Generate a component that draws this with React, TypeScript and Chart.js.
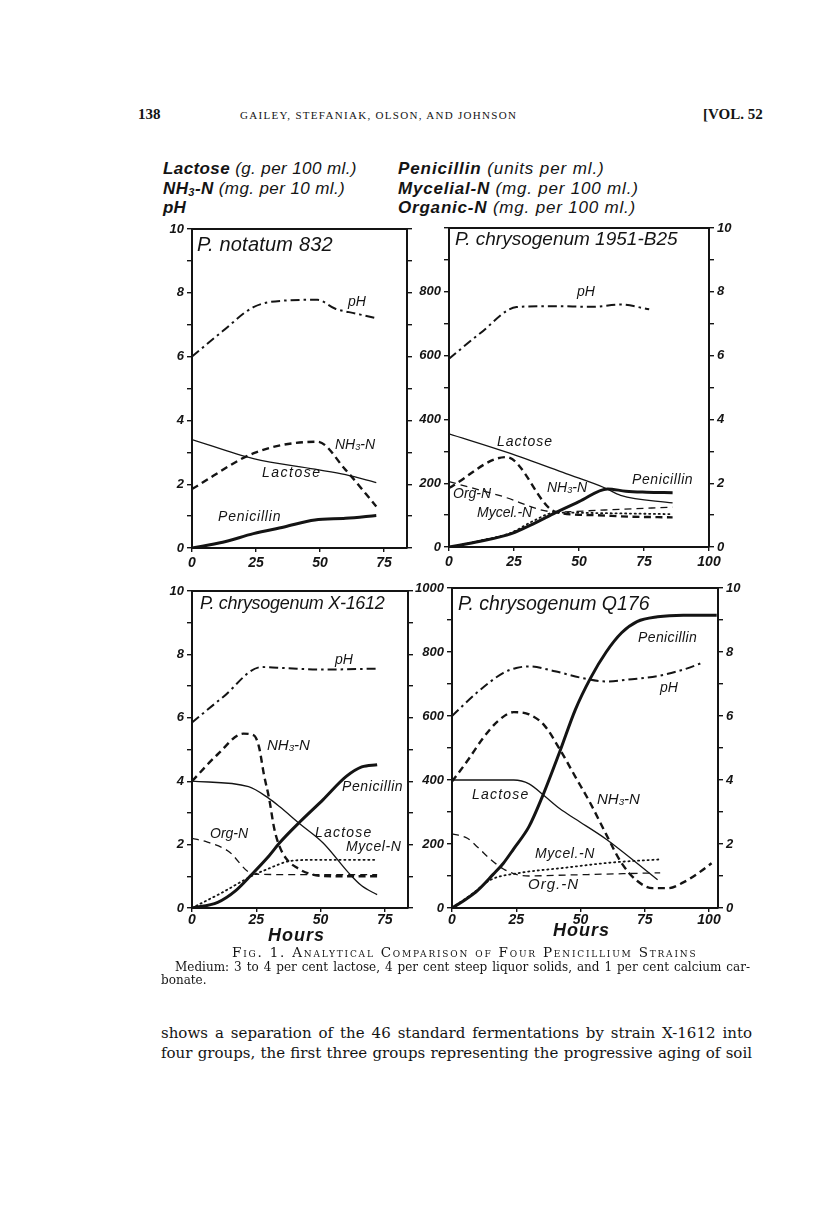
import React, { useEffect, useRef } from "react";
import { Chart, registerables } from "chart.js";
Chart.register(...registerables);

// ---------------- data (hours / values) ----------------
// Panel 1: P. notatum 832
const P1_PH_H = [0, 12, 24, 35, 49, 56, 64, 72];
const P1_PH = [6.0, 6.8, 7.55, 7.75, 7.78, 7.5, 7.35, 7.2];
const P1_LAC_H = [0, 24, 48, 60, 72];
const P1_LAC = [3.4, 2.8, 2.47, 2.3, 2.05];
const P1_NH3_H = [0, 25, 49, 60, 72];
const P1_NH3 = [1.85, 3.0, 3.33, 2.45, 1.3];
const P1_PEN_H = [0, 12, 24, 36, 48, 60, 72];
const P1_PEN = [0, 18, 45, 66, 88, 93, 102];

// Panel 2: P. chrysogenum 1951-B25
const P2_PH_H = [0, 12, 26, 40, 55, 66, 77];
const P2_PH = [5.9, 6.7, 7.52, 7.55, 7.53, 7.6, 7.45];
const P2_LAC_H = [0, 23, 45, 60, 66, 86];
const P2_LAC = [3.55, 2.95, 2.3, 1.85, 1.62, 1.38];
const P2_NH3_H = [0, 22, 41, 55, 70, 86];
const P2_NH3 = [1.85, 2.82, 1.1, 1.0, 0.95, 0.93];
const P2_ORG_H = [0, 20, 41, 60, 86];
const P2_ORG = [205, 160, 110, 116, 125];
const P2_MYC_H = [0, 12, 24, 32, 41, 60, 86];
const P2_MYC = [0, 20, 45, 80, 108, 106, 103];
const P2_PEN_H = [0, 12, 24, 33, 41, 50, 61, 68, 76, 86];
const P2_PEN = [0, 18, 42, 75, 108, 142, 182, 175, 172, 170];

// Panel 3: P. chrysogenum X-1612
const P3_PH_H = [0, 12, 27, 36, 50, 72];
const P3_PH = [5.85, 6.65, 7.6, 7.57, 7.52, 7.55];
const P3_NH3_H = [0, 10, 20, 24, 26, 28, 30, 32, 34, 37, 41, 46, 55, 72];
const P3_NH3 = [4.0, 4.85, 5.5, 5.45, 5.1, 4.2, 3.45, 2.5, 1.95, 1.52, 1.26, 1.07, 1.0, 1.0];
const P3_LAC_H = [0, 22, 30, 34, 42, 51, 61, 66, 72];
const P3_LAC = [4.0, 3.83, 3.45, 3.2, 2.65, 2.05, 1.1, 0.7, 0.42];
const P3_PEN_H = [0, 10, 17, 23, 30, 34, 42, 51, 60, 66, 72];
const P3_PEN = [0, 18, 55, 104, 165, 205, 272, 342, 415, 445, 452];
const P3_ORG_H = [0, 6, 14, 24, 48, 72];
const P3_ORG = [220, 208, 180, 107, 105, 105];
const P3_MYC_H = [0, 12, 23, 30, 38, 48, 72];
const P3_MYC = [0, 50, 100, 125, 148, 152, 152];

// Panel 4: P. chrysogenum Q176
const P4_PH_H = [0, 10, 20, 25, 30, 40, 50, 60, 70, 80, 90, 98];
const P4_PH = [6.0, 6.75, 7.35, 7.5, 7.55, 7.4, 7.2, 7.08, 7.15, 7.25, 7.45, 7.68];
const P4_PEN_H = [0, 5, 10, 16, 20, 24, 30, 35, 42, 48, 54, 60, 66, 72, 80, 90, 103];
const P4_PEN = [0, 25, 55, 105, 140, 185, 255, 345, 490, 620, 720, 800, 860, 895, 910, 915, 915];
const P4_NH3_H = [0, 6, 12, 18, 24, 30, 36, 42, 48, 54, 60, 66, 72, 78, 84, 90, 96, 101];
const P4_NH3 = [3.95, 4.6, 5.3, 5.85, 6.12, 6.05, 5.7, 4.95, 4.1, 3.25, 2.3, 1.4, 0.85, 0.62, 0.62, 0.8, 1.1, 1.4];
const P4_LAC_H = [0, 24, 30, 36, 42, 48, 60, 72, 80];
const P4_LAC = [4.0, 4.0, 3.88, 3.5, 3.1, 2.78, 2.15, 1.4, 0.88];
const P4_ORG_H = [0, 6, 10, 15, 20, 25, 30, 40, 60, 81];
const P4_ORG = [232, 218, 190, 152, 122, 105, 100, 102, 106, 110];
const P4_MYC_H = [0, 8, 15, 25, 43, 62, 81];
const P4_MYC = [0, 45, 88, 108, 125, 142, 152];

// tick values
const HOUR_STEP = 25;
const LEFT_MAX = 10;
const PEN_MAX = 1000;

// ---------------- styling ----------------
const INK = "#141414";
const PAD_L = 46;
const PAD_R = 36;
const PAD_T = 20;
const PAD_B = 30;
const TICK_FONT = { family: "'Liberation Sans', Arial, sans-serif", size: 13, style: "italic" as const, weight: "bold" as const };
const HAND = "'Liberation Sans', Arial, sans-serif";
const SERIF = "'DejaVu Serif', 'Liberation Serif', serif";
const SERIF2 = "'Liberation Serif', serif";

const STYLE: Record<string, any> = {
  ph: { borderWidth: 2, borderDash: [9, 4, 2.5, 4] },
  nh3: { borderWidth: 2.4, borderDash: [7, 4.5] },
  lac: { borderWidth: 1.3, borderDash: [] },
  pen: { borderWidth: 3, borderDash: [] },
  org: { borderWidth: 1.3, borderDash: [7, 5] },
  myc: { borderWidth: 1.8, borderDash: [1.2, 3.6] },
};

type Series = { label: string; h: number[]; v: number[]; axis: "y" | "yP"; style: string };
type AxisSpec = { id: "y" | "yP"; labels: boolean; hideMax?: boolean };

function makeAxis(spec: AxisSpec, position: "left" | "right") {
  const isPh = spec.id === "y";
  const max = isPh ? LEFT_MAX : PEN_MAX;
  const major = isPh ? 2 : 200;
  return {
    type: "linear",
    position,
    min: 0,
    max,
    ticks: {
      stepSize: isPh ? 1 : 100,
      autoSkip: false,
      display: spec.labels,
      padding: 3,
      color: INK,
      font: TICK_FONT,
      callback: (v: number) => {
        if (Math.round(v) % major !== 0) return "";
        if (spec.hideMax && v === max) return "";
        return String(v);
      },
    },
    grid: { drawOnChartArea: false, drawTicks: true, tickLength: 5, color: INK, lineWidth: 1.4 },
    border: { display: true, color: INK, width: 2 },
    afterFit: (s: any) => {
      s.width = position === "left" ? PAD_L : PAD_R;
    },
  };
}

function Panel(props: { box: number[]; xMax: number; xPad: number; left: AxisSpec; right: AxisSpec; series: Series[] }) {
  const ref = useRef<HTMLCanvasElement>(null);
  const [L, T, R, B] = props.box;
  const W = R - L + PAD_L + PAD_R;
  const H = B - T + PAD_T + PAD_B;
  useEffect(() => {
    const scales: any = {
      x: {
        type: "linear",
        position: "bottom",
        min: 0,
        max: props.xMax,
        ticks: { stepSize: HOUR_STEP, autoSkip: false, includeBounds: false, maxRotation: 0, padding: props.xPad, color: INK, font: { ...TICK_FONT, size: 14 } },
        grid: { drawOnChartArea: false, drawTicks: true, tickLength: 4, color: INK, lineWidth: 1.4 },
        border: { display: true, color: INK, width: 2 },
        afterFit: (s: any) => {
          s.height = PAD_B;
        },
      },
      xTop: {
        type: "linear",
        position: "top",
        min: 0,
        max: props.xMax,
        ticks: { display: false },
        grid: { display: true, drawOnChartArea: false, drawTicks: false },
        border: { display: true, color: INK, width: 2 },
        afterFit: (s: any) => {
          s.height = 0;
        },
      },
    };
    scales[props.left.id] = makeAxis(props.left, "left");
    scales[props.right.id] = makeAxis(props.right, "right");
    const chart = new Chart(ref.current as HTMLCanvasElement, {
      type: "line",
      data: {
        datasets: props.series.map((s) => ({
          label: s.label,
          data: s.h.map((h, i) => ({ x: h, y: s.v[i] })),
          xAxisID: "x",
          yAxisID: s.axis,
          borderColor: INK,
          backgroundColor: INK,
          pointRadius: 0,
          fill: false,
          cubicInterpolationMode: "monotone",
          borderCapStyle: s.style === "myc" ? "round" : "butt",
          ...STYLE[s.style],
        })),
      },
      options: {
        animation: false,
        responsive: false,
        maintainAspectRatio: false,
        events: [],
        layout: { padding: { top: PAD_T, left: 0, right: 0, bottom: 0 } },
        plugins: { legend: { display: false }, tooltip: { enabled: false } },
        scales,
      } as any,
    });
    return () => chart.destroy();
  }, []);
  return (
    <canvas
      ref={ref}
      width={W}
      height={H}
      style={{ position: "absolute", left: L - PAD_L, top: T - PAD_T, width: W, height: H }}
    />
  );
}

function Txt(p: { x: number; y: number; size?: number; bold?: boolean; italic?: boolean; font?: string; ls?: number; children: any; style?: any }) {
  return (
    <div
      style={{
        position: "absolute",
        left: p.x,
        top: p.y,
        fontFamily: p.font || HAND,
        fontSize: p.size || 14,
        fontWeight: p.bold ? "bold" : "normal",
        fontStyle: p.italic === false ? "normal" : "italic",
        letterSpacing: p.ls !== undefined ? p.ls : 0,
        lineHeight: 1,
        whiteSpace: "nowrap",
        color: INK,
        ...(p.style || {}),
      }}
    >
      {p.children}
    </div>
  );
}

function Justified(p: { x: number; y: number; w: number; size: number; children: any }) {
  return (
    <div
      style={{
        position: "absolute",
        left: p.x,
        top: p.y,
        width: p.w,
        fontFamily: SERIF,
        fontSize: p.size,
        lineHeight: 1,
        textAlign: "justify",
        textAlignLast: "justify",
        color: INK,
      }}
    >
      {p.children}
    </div>
  );
}

const NH3 = (
  <>
    NH<sub style={{ fontSize: "0.65em", verticalAlign: "-0.15em" }}>3</sub>-N
  </>
);

export default function App() {
  const p1: Series[] = [
    { label: "pH", h: P1_PH_H, v: P1_PH, axis: "y", style: "ph" },
    { label: "Lactose", h: P1_LAC_H, v: P1_LAC, axis: "y", style: "lac" },
    { label: "NH3-N", h: P1_NH3_H, v: P1_NH3, axis: "y", style: "nh3" },
    { label: "Penicillin", h: P1_PEN_H, v: P1_PEN, axis: "yP", style: "pen" },
  ];
  const p2: Series[] = [
    { label: "pH", h: P2_PH_H, v: P2_PH, axis: "y", style: "ph" },
    { label: "Lactose", h: P2_LAC_H, v: P2_LAC, axis: "y", style: "lac" },
    { label: "NH3-N", h: P2_NH3_H, v: P2_NH3, axis: "y", style: "nh3" },
    { label: "Org-N", h: P2_ORG_H, v: P2_ORG, axis: "yP", style: "org" },
    { label: "Mycel.-N", h: P2_MYC_H, v: P2_MYC, axis: "yP", style: "myc" },
    { label: "Penicillin", h: P2_PEN_H, v: P2_PEN, axis: "yP", style: "pen" },
  ];
  const p3: Series[] = [
    { label: "pH", h: P3_PH_H, v: P3_PH, axis: "y", style: "ph" },
    { label: "NH3-N", h: P3_NH3_H, v: P3_NH3, axis: "y", style: "nh3" },
    { label: "Lactose", h: P3_LAC_H, v: P3_LAC, axis: "y", style: "lac" },
    { label: "Org-N", h: P3_ORG_H, v: P3_ORG, axis: "yP", style: "org" },
    { label: "Mycel-N", h: P3_MYC_H, v: P3_MYC, axis: "yP", style: "myc" },
    { label: "Penicillin", h: P3_PEN_H, v: P3_PEN, axis: "yP", style: "pen" },
  ];
  const p4: Series[] = [
    { label: "pH", h: P4_PH_H, v: P4_PH, axis: "y", style: "ph" },
    { label: "NH3-N", h: P4_NH3_H, v: P4_NH3, axis: "y", style: "nh3" },
    { label: "Lactose", h: P4_LAC_H, v: P4_LAC, axis: "y", style: "lac" },
    { label: "Org.-N", h: P4_ORG_H, v: P4_ORG, axis: "yP", style: "org" },
    { label: "Mycel.-N", h: P4_MYC_H, v: P4_MYC, axis: "yP", style: "myc" },
    { label: "Penicillin", h: P4_PEN_H, v: P4_PEN, axis: "yP", style: "pen" },
  ];

  return (
    <div style={{ position: "absolute", left: 0, top: 0, width: 816, height: 1215, background: "#fff", overflow: "hidden" }}>
      {/* running head */}
      <Txt x={138} y={107} size={15} italic={false} bold font={SERIF2}>138</Txt>
      <Txt x={240} y={110} size={11} italic={false} font={SERIF2} ls={1.3}>GAILEY, STEFANIAK, OLSON, AND JOHNSON</Txt>
      <Txt x={703} y={107} size={15} italic={false} bold font={SERIF2}>[VOL. 52</Txt>

      {/* axis captions */}
      <Txt x={163} y={160} size={17} ls={0.4}><b>Lactose</b> (g. per 100 ml.)</Txt>
      <Txt x={163} y={180} size={17} ls={0.4}><b>{NH3}</b> (mg. per 10 ml.)</Txt>
      <Txt x={163} y={199} size={17}><b>pH</b></Txt>
      <Txt x={398} y={160} size={17} ls={0.9}><b>Penicillin</b> (units per ml.)</Txt>
      <Txt x={398} y={180} size={17} ls={0.8}><b>Mycelial-N</b> (mg. per 100 ml.)</Txt>
      <Txt x={398} y={199} size={17} ls={0.8}><b>Organic-N</b> (mg. per 100 ml.)</Txt>

      <Panel box={[192, 229, 407, 548]} xMax={84} xPad={3} left={{ id: "y", labels: true }} right={{ id: "yP", labels: false }} series={p1} />
      <Panel box={[449, 228, 709, 547]} xMax={100} xPad={3} left={{ id: "yP", labels: true, hideMax: true }} right={{ id: "y", labels: true }} series={p2} />
      <Panel box={[192, 591, 408, 908]} xMax={84} xPad={0} left={{ id: "y", labels: true }} right={{ id: "yP", labels: false }} series={p3} />
      <Panel box={[452, 588, 718, 908]} xMax={103.5} xPad={0} left={{ id: "yP", labels: true }} right={{ id: "y", labels: true }} series={p4} />

      {/* panel titles */}
      <Txt x={197} y={234} size={20} ls={0.2}>P. notatum 832</Txt>
      <Txt x={455} y={229} size={19}>P. chrysogenum 1951-B25</Txt>
      <Txt x={200} y={594} size={18} ls={-0.3}>P. chrysogenum X-1612</Txt>
      <Txt x={458} y={594} size={19.5}>P. chrysogenum Q176</Txt>

      {/* curve labels panel 1 */}
      <Txt x={348} y={294} size={14}>pH</Txt>
      <Txt x={335} y={437} size={14}>{NH3}</Txt>
      <Txt x={262} y={465} size={14} ls={1.5}>Lactose</Txt>
      <Txt x={218} y={509} size={14} ls={0.8}>Penicillin</Txt>

      {/* panel 2 */}
      <Txt x={577} y={284} size={14}>pH</Txt>
      <Txt x={497} y={434} size={14} ls={1}>Lactose</Txt>
      <Txt x={632} y={472} size={14} ls={0.6}>Penicillin</Txt>
      <Txt x={547} y={480} size={14}>{NH3}</Txt>
      <Txt x={453} y={486} size={14}>Org-N</Txt>
      <Txt x={477} y={505} size={14}>Mycel.-N</Txt>

      {/* panel 3 */}
      <Txt x={335} y={652} size={14}>pH</Txt>
      <Txt x={267} y={737} size={15}>{NH3}</Txt>
      <Txt x={342} y={779} size={14} ls={0.6}>Penicillin</Txt>
      <Txt x={210} y={826} size={14}>Org-N</Txt>
      <Txt x={315} y={825} size={14} ls={1.2}>Lactose</Txt>
      <Txt x={346} y={839} size={14} ls={0.6}>Mycel-N</Txt>

      {/* panel 4 */}
      <Txt x={638} y={630} size={14} ls={0.4}>Penicillin</Txt>
      <Txt x={660} y={680} size={14}>pH</Txt>
      <Txt x={472} y={787} size={14} ls={1.2}>Lactose</Txt>
      <Txt x={597} y={791} size={15}>{NH3}</Txt>
      <Txt x={535} y={846} size={14} ls={0.6}>Mycel.-N</Txt>
      <Txt x={528} y={876} size={15} ls={1}>Org.-N</Txt>

      {/* x axis titles */}
      <Txt x={268} y={926} size={18} bold ls={1}>Hours</Txt>
      <Txt x={553} y={921} size={18} bold ls={1}>Hours</Txt>

      {/* caption */}
      <Txt x={232} y={946} size={13.5} italic={false} font={SERIF} ls={1.8} style={{ fontVariant: "small-caps" }}>
        Fig. 1. Analytical Comparison of Four Penicillium Strains
      </Txt>
      <Justified x={175} y={961} w={575} size={12}>
        Medium: 3 to 4 per cent lactose, 4 per cent steep liquor solids, and 1 per cent calcium car-
      </Justified>
      <Txt x={161} y={974} size={12} italic={false} font={SERIF}>bonate.</Txt>

      {/* body text */}
      <Justified x={161} y={1026} w={591} size={15}>
        shows a separation of the 46 standard fermentations by strain X-1612 into
      </Justified>
      <Justified x={161} y={1046} w={591} size={15}>
        four groups, the first three groups representing the progressive aging of soil
      </Justified>
    </div>
  );
}
